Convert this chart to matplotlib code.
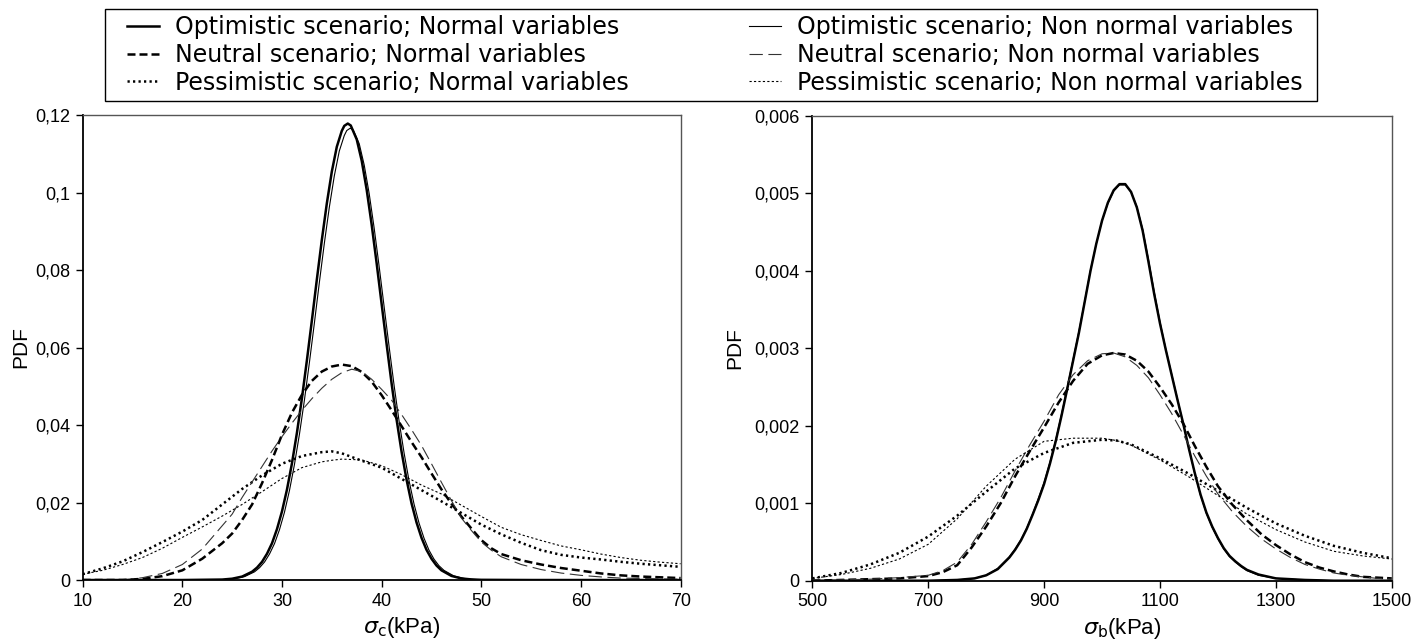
import matplotlib
matplotlib.use("Agg")
import matplotlib.pyplot as plt
from matplotlib.lines import Line2D
from matplotlib.patches import Rectangle

# ---------------- data ----------------
# Left panel: sigma_c (kPa)
c_opt_x = [10, 20, 24, 25, 26, 27, 27.5, 28, 28.5, 29, 29.5, 30, 30.5, 31, 31.5, 32, 32.5, 33,
           33.5, 34, 34.5, 35, 35.5, 36, 36.25, 36.6, 36.9, 37.5, 38, 38.5, 39, 39.5, 40, 40.5,
           41, 41.5, 42, 42.5, 43, 43.5, 44, 44.5, 45, 45.5, 46, 47, 48, 49, 50, 55, 70]
c_opt_n = [0, 0, 0.00012, 0.00034, 0.00089, 0.00214, 0.00321, 0.0047, 0.00679, 0.0095, 0.01315,
           0.0177, 0.02334, 0.0301, 0.0380, 0.0469, 0.0567, 0.0670, 0.0776, 0.0878, 0.0972,
           0.1054, 0.1118, 0.1159, 0.1172, 0.1178, 0.1173, 0.1137, 0.1082, 0.1007, 0.0917,
           0.0817, 0.0712, 0.0608, 0.0507, 0.0414, 0.0331, 0.0259, 0.0198, 0.01486, 0.0109,
           0.0078, 0.0055, 0.00375, 0.0025, 0.00106, 0.00041, 0.00015, 0.00005, 0, 0]
c_opt_nn_x = [10, 20, 24.25, 25.25, 26.25, 27.25, 27.75, 28.25, 28.75, 29.25, 29.75, 30.25,
              30.75, 31.25, 31.75, 32.25, 32.75, 33.25, 33.75, 34.25, 34.75, 35.25, 35.75,
              36.25, 36.5, 36.85, 37.15, 37.75, 38.25, 38.75, 39.25, 39.75, 40.25, 40.75,
              41.25, 41.75, 42.25, 42.75, 43.25, 43.75, 44.25, 44.75, 45.25, 45.75, 46.25,
              47.25, 48.25, 49.25, 50.25, 55, 70]
c_opt_nn = [0, 0, 0.00012, 0.00034, 0.00088, 0.00212, 0.00318, 0.00465, 0.00672, 0.0094,
            0.0130, 0.0175, 0.0231, 0.0298, 0.0376, 0.0464, 0.0561, 0.0663, 0.0768, 0.0869,
            0.0962, 0.1043, 0.1107, 0.1147, 0.1160, 0.1166, 0.1161, 0.1126, 0.1071, 0.0997,
            0.0908, 0.0809, 0.0705, 0.0602, 0.0502, 0.0410, 0.0328, 0.0256, 0.0196, 0.0147,
            0.0108, 0.0077, 0.0054, 0.0037, 0.0025, 0.00105, 0.00041, 0.00015, 0.00005, 0, 0]

c_neu_x = [10, 14, 16, 18, 20, 22, 24, 25, 26, 27, 28, 29, 30, 31, 32, 33, 34, 35, 36, 37, 38,
           39, 40, 41, 42, 43, 44, 45, 46, 47, 48, 49, 50, 51, 52, 54, 56, 58, 60, 62, 64, 66,
           68, 70]
c_neu_n = [0, 0, 0.0003, 0.0010, 0.0025, 0.0055, 0.0095, 0.0120, 0.0155, 0.0195, 0.0250, 0.0310,
           0.0375, 0.0432, 0.0478, 0.0514, 0.0538, 0.0551, 0.0556, 0.0552, 0.0537, 0.0512,
           0.0477, 0.0438, 0.0397, 0.0356, 0.0317, 0.0275, 0.0234, 0.0197, 0.0164, 0.0133,
           0.0103, 0.0082, 0.0067, 0.0051, 0.0040, 0.0031, 0.0024, 0.0017, 0.0012, 0.0009,
           0.0007, 0.0005]
c_neu_nn = [0, 0, 0.0006, 0.0017, 0.0040, 0.0080, 0.0140, 0.0170, 0.0213, 0.0253, 0.0293,
            0.0333, 0.0370, 0.0405, 0.0438, 0.0468, 0.0495, 0.0518, 0.0535, 0.0544, 0.0538,
            0.0518, 0.0492, 0.0464, 0.0427, 0.0388, 0.0347, 0.0300, 0.0252, 0.0205, 0.0160,
            0.0128, 0.0098, 0.0077, 0.0060, 0.0040, 0.0027, 0.0018, 0.0012, 0.0008, 0.0005,
            0.0004, 0.0003, 0.0002]

c_pes_x = [10, 12, 14, 16, 18, 20, 22, 24, 26, 28, 30, 32, 34, 35, 36, 38, 40, 42, 44, 46, 48,
           50, 52, 54, 56, 58, 60, 62, 64, 66, 68, 70]
c_pes_n = [0.0015, 0.0030, 0.0048, 0.0072, 0.0098, 0.0125, 0.0155, 0.0195, 0.0235, 0.0270,
           0.0300, 0.0320, 0.0330, 0.0332, 0.0327, 0.0308, 0.0290, 0.0261, 0.0232, 0.0203,
           0.0173, 0.0143, 0.0118, 0.0096, 0.0077, 0.0065, 0.0058, 0.0053, 0.0047, 0.0042,
           0.0038, 0.0034]
c_pes_nn = [0.0015, 0.0025, 0.0040, 0.0058, 0.0082, 0.0110, 0.0137, 0.0165, 0.0195, 0.0228,
            0.0262, 0.0290, 0.0305, 0.0309, 0.0312, 0.0310, 0.0295, 0.0272, 0.0245, 0.0222,
            0.0193, 0.0164, 0.0136, 0.0117, 0.0102, 0.0088, 0.0078, 0.0067, 0.0058, 0.0051,
            0.0046, 0.0042]

# Right panel: sigma_b (kPa)
b_opt_x = [500, 700, 750, 780, 800, 820, 840, 850, 860, 870, 880, 890, 900, 910, 920, 930, 940,
           950, 960, 970, 980, 990, 1000, 1010, 1020, 1030, 1040, 1050, 1060, 1070, 1080, 1090,
           1100, 1110, 1120, 1130, 1140, 1150, 1160, 1170, 1180, 1190, 1200, 1210, 1220, 1230,
           1240, 1250, 1270, 1300, 1350, 1400, 1500]
b_opt_n = [0, 0, 0.00001, 0.00003, 0.00007, 0.00015, 0.00030, 0.00040, 0.00052, 0.00067,
           0.00085, 0.00104, 0.00125, 0.00151, 0.00180, 0.00213, 0.00248, 0.00284, 0.00320,
           0.00360, 0.00400, 0.00435, 0.00465, 0.00488, 0.00504, 0.00512, 0.00512, 0.00502,
           0.00482, 0.00452, 0.00412, 0.00370, 0.00332, 0.00298, 0.00266, 0.00234, 0.00203,
           0.00170, 0.00139, 0.00111, 0.00088, 0.00070, 0.00055, 0.00042, 0.00032, 0.00025,
           0.00019, 0.00014, 0.00008, 0.00003, 0.00001, 0, 0]
b_opt_nn = [0, 0, 0.00001, 0.00003, 0.00007, 0.00016, 0.00031, 0.00041, 0.00053, 0.00068,
            0.00086, 0.00106, 0.00127, 0.00153, 0.00182, 0.00215, 0.00250, 0.00286, 0.00322,
            0.00361, 0.00401, 0.00435, 0.00465, 0.00487, 0.00503, 0.00511, 0.00511, 0.00502,
            0.00483, 0.00454, 0.00415, 0.00373, 0.00334, 0.00299, 0.00267, 0.00235, 0.00203,
            0.00170, 0.00138, 0.00110, 0.00087, 0.00069, 0.00054, 0.00041, 0.00031, 0.00024,
            0.00018, 0.00013, 0.00007, 0.00003, 0.00001, 0, 0]

b_neu_x = [500, 550, 600, 650, 700, 725, 750, 775, 800, 825, 850, 875, 900, 925, 950, 975,
           1000, 1020, 1040, 1060, 1080, 1100, 1120, 1140, 1160, 1180, 1200, 1225, 1250, 1275,
           1300, 1325, 1350, 1375, 1400, 1425, 1450, 1475, 1500]
b_neu_n = [0, 0.00001, 0.00002, 0.00003, 0.00006, 0.00011, 0.00020, 0.00043, 0.00070, 0.00100,
           0.00135, 0.00167, 0.00198, 0.00230, 0.00258, 0.00280, 0.00291, 0.00294, 0.00292,
           0.00284, 0.00270, 0.00250, 0.00228, 0.00203, 0.00174, 0.00147, 0.00122, 0.00098,
           0.00078, 0.00060, 0.00046, 0.00034, 0.00024, 0.00017, 0.00012, 0.00008, 0.00005,
           0.00004, 0.00003]
b_neu_nn = [0, 0.00001, 0.00002, 0.00004, 0.00007, 0.00013, 0.00024, 0.00047, 0.00076,
            0.00107, 0.00142, 0.00175, 0.00206, 0.00240, 0.00266, 0.00284, 0.00293, 0.00294,
            0.00289, 0.00278, 0.00262, 0.00240, 0.00216, 0.00189, 0.00161, 0.00135, 0.00112,
            0.00089, 0.00070, 0.00054, 0.00041, 0.00030, 0.00021, 0.00015, 0.00010, 0.00007,
            0.00005, 0.00003, 0.00002]

b_pes_x = [500, 550, 600, 650, 700, 750, 800, 850, 900, 950, 1000, 1025, 1050, 1100, 1150,
           1200, 1250, 1300, 1350, 1400, 1450, 1500]
b_pes_n = [0.00003, 0.00010, 0.00021, 0.00036, 0.00057, 0.00084, 0.00115, 0.00145, 0.00165,
           0.00178, 0.00182, 0.00181, 0.00176, 0.00158, 0.00138, 0.00116, 0.00094, 0.00074,
           0.00058, 0.00045, 0.00036, 0.00029]
b_pes_nn = [0.00003, 0.00008, 0.00016, 0.00028, 0.00047, 0.00080, 0.00122, 0.00157, 0.00180,
            0.00184, 0.00184, 0.00181, 0.00175, 0.00156, 0.00134, 0.00110, 0.00086, 0.00066,
            0.00050, 0.00038, 0.00032, 0.00028]

c_xticks = [10, 20, 30, 40, 50, 60, 70]
c_yticks = [0, 0.02, 0.04, 0.06, 0.08, 0.1, 0.12]
c_yticklabels = ["0", "0,02", "0,04", "0,06", "0,08", "0,1", "0,12"]
b_xticks = [500, 700, 900, 1100, 1300, 1500]
b_yticks = [0, 0.001, 0.002, 0.003, 0.004, 0.005, 0.006]
b_yticklabels = ["0", "0,001", "0,002", "0,003", "0,004", "0,005", "0,006"]

legend_labels = [
    "Optimistic scenario; Normal variables",
    "Neutral scenario; Normal variables",
    "Pessimistic scenario; Normal variables",
    "Optimistic scenario; Non normal variables",
    "Neutral scenario; Non normal variables",
    "Pessimistic scenario; Non normal variables",
]

# ---------------- styles ----------------
THICK = 1.8
THIN = 0.8
styles = [
    dict(color="black", lw=THICK, ls="-"),
    dict(color="black", lw=THICK, ls=(0, (3.2, 1.6))),
    dict(color="black", lw=THICK, ls=(0, (0.9, 1.3))),
    dict(color="black", lw=THIN, ls="-"),
    dict(color="#333333", lw=THIN, ls=(0, (12, 5))),
    dict(color="black", lw=THIN, ls=(0, (2, 2))),
]

plt.rcParams["font.family"] = ["Liberation Sans", "DejaVu Sans"]
fig = plt.figure(figsize=(14.13, 6.39), dpi=100)
ax1 = fig.add_axes([0.0585, 0.0923, 0.4232, 0.7277])
ax2 = fig.add_axes([0.5749, 0.0912, 0.4101, 0.7273])

def draw(ax, series):
    for (xs, ys), st in zip(series, styles):
        ax.plot(xs, ys, **st, solid_capstyle="butt", dash_capstyle="butt",
                solid_joinstyle="round")

draw(ax1, [
    (c_opt_x, c_opt_n), (c_neu_x, c_neu_n), (c_pes_x, c_pes_n),
    (c_opt_nn_x, c_opt_nn), (c_neu_x, c_neu_nn), (c_pes_x, c_pes_nn)])
draw(ax2, [
    (b_opt_x, b_opt_n), (b_neu_x, b_neu_n), (b_pes_x, b_pes_n),
    (b_opt_x, b_opt_nn), (b_neu_x, b_neu_nn), (b_pes_x, b_pes_nn)])

def style_axes(ax, xt, yt, ytl, xlabel, ypad):
    ax.set_xlim(xt[0], xt[-1])
    ax.set_ylim(yt[0], yt[-1])
    ax.set_xticks(xt)
    ax.set_xticklabels([str(v) for v in xt])
    ax.set_yticks(yt)
    ax.set_yticklabels(ytl)
    ax.tick_params(direction="out", length=5, width=1, labelsize=13, pad=4, colors="black")
    for s in ("left", "bottom"):
        ax.spines[s].set_linewidth(1.3)
        ax.spines[s].set_color("black")
    for s in ("top", "right"):
        ax.spines[s].set_linewidth(1.0)
        ax.spines[s].set_color("#555555")
    ax.set_ylabel("PDF", fontsize=15, labelpad=ypad)
    ax.set_xlabel(xlabel, fontsize=16)
    ax.xaxis.set_label_coords(0.534, -0.075)

style_axes(ax1, c_xticks, c_yticks, c_yticklabels, r"$\sigma_{\mathrm{c}}$(kPa)", 3)
style_axes(ax2, b_xticks, b_yticks, b_yticklabels, r"$\sigma_{\mathrm{b}}$(kPa)", 7)
ax2.axhline(b_yticks[-1], xmin=0, xmax=0.2, color="black", lw=1.3)

# legend frame drawn separately, legend itself frameless
fig.patches.append(Rectangle((105 / 1413, 1 - 101 / 639), 1212 / 1413, 92 / 639,
                             transform=fig.transFigure, fill=False, ec="black", lw=1.0))
handles = [Line2D([], [], **st) for st in styles]
leg = fig.legend(handles, legend_labels, loc="center left",
                 bbox_to_anchor=(127 / 1413, 1 - 55 / 639),
                 ncol=2, frameon=False, borderpad=0, borderaxespad=0,
                 handlelength=1.35, handletextpad=0.68, columnspacing=5.1, labelspacing=0.15,
                 prop={"family": "DejaVu Sans", "size": 17})

fig.savefig("out.png", dpi=100)
